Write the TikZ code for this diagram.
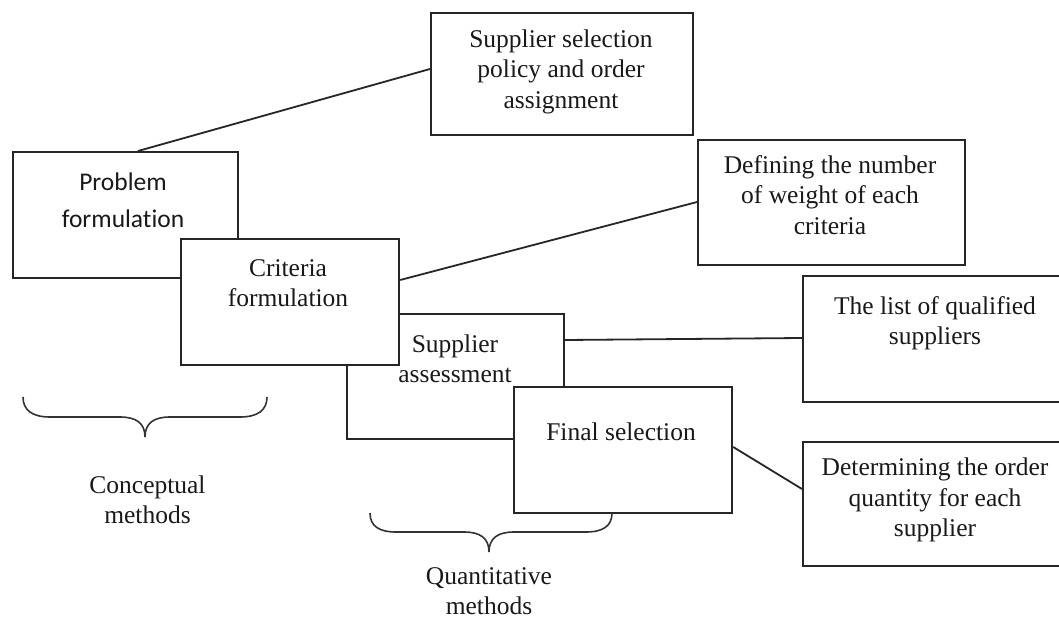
\documentclass[tikz,border=0pt]{standalone}
\usepackage{fontspec}
\setmainfont{Liberation Serif}
\newfontfamily\calib[Ligatures=NoCommon]{Carlito}
\usetikzlibrary{calc}
\begin{document}
\begin{tikzpicture}[x=1pt,y=-1pt,
  boxnode/.style={draw=black!85, line width=2.2pt, fill=white, rectangle, inner sep=0pt, anchor=north west},
  txt/.style={inner sep=0pt, align=center, font=\fontsize{25.5}{30.5}\selectfont, text=black!90},
  sanstxt/.style={inner sep=0pt, align=center, font=\calib\fontsize{25.5}{37}\selectfont, text=black!90},
  link/.style={draw=black!85, line width=1.8pt},
  bracepath/.style={draw=black!80, line width=1.6pt}]
\clip (0,0) rectangle (1059,620);
\fill[white] (0,0) rectangle (1059,620);
% right-hand boxes
\node[boxnode, minimum width=262pt, minimum height=122pt] (pp) at (430,12) {};
\node[boxnode, minimum width=267pt, minimum height=125pt] (dn) at (697,139) {};
\node[boxnode, minimum width=266pt, minimum height=126pt] (lq) at (802,275) {};
\node[boxnode, minimum width=266pt, minimum height=124pt] (dq) at (802,441) {};
% overlapping stage boxes
\node[boxnode, minimum width=225pt, minimum height=126pt] (pf) at (12,151) {};
\node[boxnode, minimum width=217pt, minimum height=125pt] (sa) at (346,313) {};
\node[boxnode, minimum width=218pt, minimum height=126pt] (cf) at (180,238) {};
\node[boxnode, minimum width=218pt, minimum height=126pt] (fs) at (513,386) {};
% texts
\node[txt] (tpp) at (561,71.5) {Supplier selection\\policy and order\\assignment};
\node[txt] (tdn) at (830,195) {Defining the number\\of weight of each\\criteria};
\node[txt] (tlq) at (935,323) {The list of qualified\\suppliers};
\node[txt] (tdq) at (935,500) {Determining the order\\quantity for each\\supplier};
\node[sanstxt] (tpf) at (123,200) {Problem\\formulation};
\node[txt] (tcf) at (288,283) {Criteria\\formulation};
\node[txt] (tsa) at (455,359) {Supplier\\assessment};
\node[txt] (tfs) at (621,432) {Final selection};
\node[txt] (tcm) at (147.5,500) {Conceptual\\methods};
\node[txt] (tqm) at (489,591) {Quantitative\\methods};
% connectors
\draw[link] ($(pf.north west)+(126,0)$) -- ($(pp.north west)+(0,57)$);
\draw[link] ($(cf.north east)+(0,42)$) -- ($(dn.north west)+(0,63)$);
\draw[link] ($(sa.north east)+(0,27)$) -- ($(lq.north west)+(0,63)$);
\draw[link] ($(fs.north east)+(0,61)$) -- ($(dq.north west)+(0,48)$);
% braces
\draw[bracepath] (23,397) .. controls (23,410) and (32,417) .. (50,417) -- (120,417)
  .. controls (136,417) and (145,423) .. (145,437)
  .. controls (145,423) and (154,417) .. (170,417) -- (240,417)
  .. controls (258,417) and (267,410) .. (267,397);
\draw[bracepath] (370,513) .. controls (370,526) and (379,532) .. (396,532) -- (464,532)
  .. controls (480,532) and (489,538) .. (489,552)
  .. controls (489,538) and (498,532) .. (514,532) -- (586,532)
  .. controls (603,532) and (612,526) .. (612,513);
\end{tikzpicture}
\end{document}
